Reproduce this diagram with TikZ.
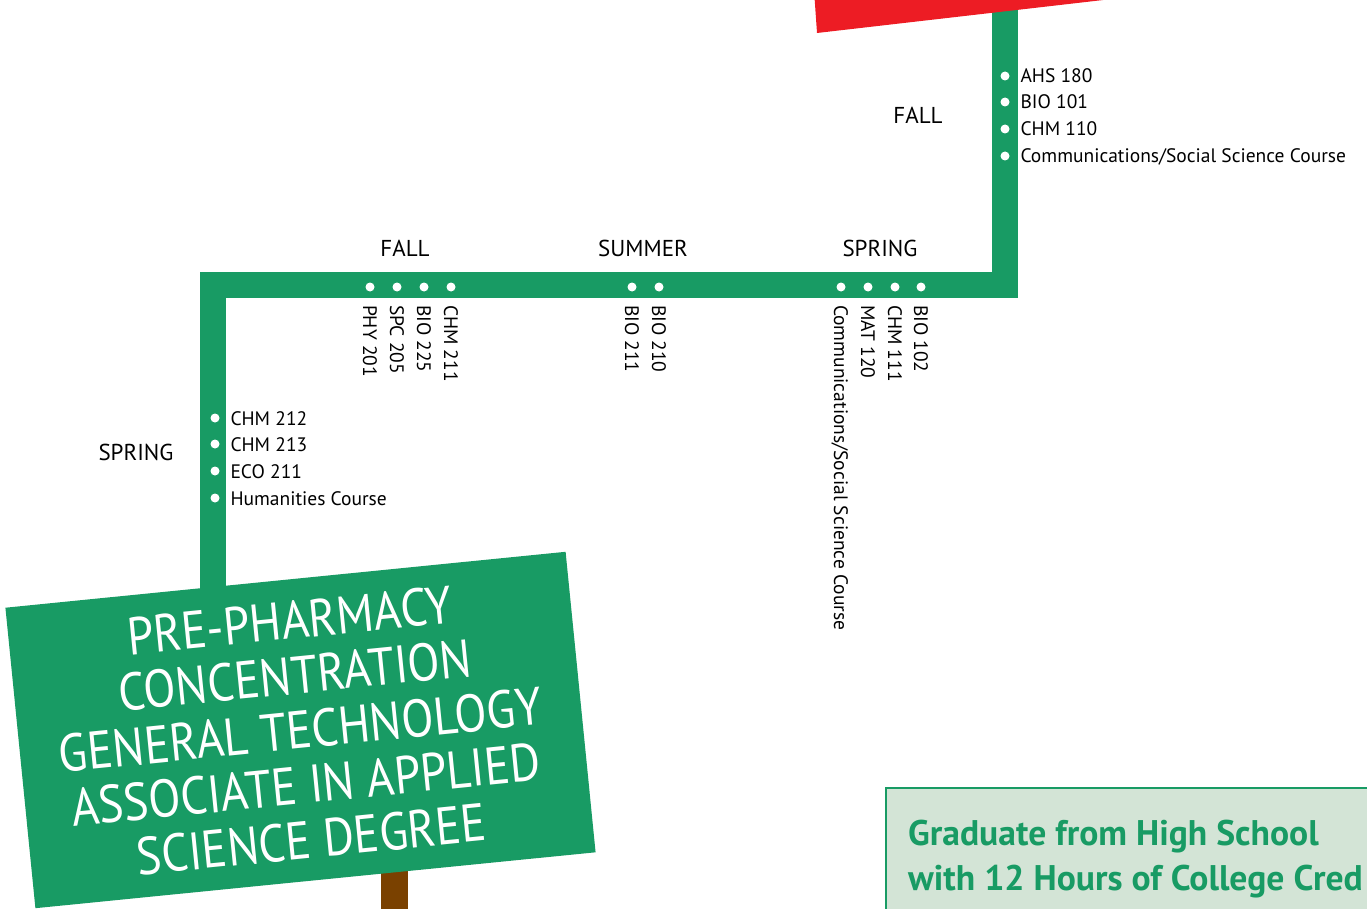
\documentclass[tikz,border=0pt]{standalone}
\usepackage{fontspec}
\setmainfont{PT Sans}
\newfontfamily\signfont[FakeStretch=0.89]{PT Sans}
\usetikzlibrary{positioning}

\definecolor{trackgreen}{RGB}{24,155,100}
\definecolor{flagred}{RGB}{237,28,36}
\definecolor{postbrown}{RGB}{122,65,0}
\definecolor{boxgreen}{RGB}{211,228,214}

\begin{document}
\begin{tikzpicture}[x=1pt,y=-1pt,
	track/.style={draw=trackgreen,line width=26pt},
	stop/.style={circle,fill=white,inner sep=0,outer sep=0,minimum size=9pt},
	course/.style={inner sep=0,outer sep=0,text height=14pt,text depth=0pt,font=\fontsize{19.5}{22}\selectfont},
	vcourse/.style={course,rotate=-90,anchor=west},
	season/.style={inner sep=0,font=\fontsize{23}{26}\selectfont},
	sign/.style={fill=trackgreen,text=white,align=center,inner sep=0,rotate=5.7,
		minimum width=563pt,minimum height=302pt,font=\signfont\fontsize{53}{55}\selectfont},
	gradbox/.style={draw=trackgreen,line width=2.5pt,fill=boxgreen},
	gradtext/.style={inner sep=0,anchor=base west,text=trackgreen,font=\bfseries\fontsize{35.6}{40}\selectfont}]
	\useasboundingbox (0,0) rectangle (1367,909);

	% track
	\coordinate (top) at (1005,-20);
	\coordinate (turn1) at (1005,285);
	\coordinate (turn2) at (213,285);
	\coordinate (bottom) at (213,620);
	\draw[track] (top) -- (turn1) -- (turn2) -- (bottom);

	% red sign above
	\fill[flagred] (814,-10) -- (817,33) -- (1190,-10) -- cycle;

	% first fall
	\foreach \y/\c [count=\i] in {76/AHS 180,102/BIO 101,129/CHM 110,156/{Communications/Social Science Course}} {
		\node[stop] (r\i) at (1005,\y) {};
		\node[course,right=11pt of r\i] (rl\i) {\c};
	}
	\node[season] (fall1) at (918,115) {FALL};

	% spring, summer, fall
	\foreach \x/\c [count=\i] in {841/{Communications/Social Science Course},868/MAT 120,895/CHM 111,921/BIO 102,
		632/BIO 211,659/BIO 210,370/PHY 201,397/SPC 205,424/BIO 225,451/CHM 211} {
		\node[stop] (h\i) at (\x,287) {};
		\node[vcourse] (hl\i) at (\x,305) {\c};
	}
	\node[season] (spring1) at (880,248) {SPRING};
	\node[season] (summer) at (643,248) {SUMMER};
	\node[season] (fall2) at (405,248) {FALL};

	% last spring
	\foreach \y/\c [count=\i] in {418/CHM 212,444/CHM 213,471/ECO 211,498/Humanities Course} {
		\node[stop] (l\i) at (215,\y) {};
		\node[course,right=11pt of l\i] (ll\i) {\c};
	}
	\node[season] (spring2) at (136,452) {SPRING};

	% degree sign
	\fill[postbrown] (381,840) rectangle (408,920);
	\node[sign] (degree) at (300.5,730) {PRE-PHARMACY\\CONCENTRATION\\GENERAL TECHNOLOGY\\ASSOCIATE IN APPLIED\\SCIENCE DEGREE};

	% start box
	\draw[gradbox] (886,788) rectangle (1380,925);
	\node[gradtext] (grad1) at (908,845) {Graduate from High School};
	\node[gradtext] (grad2) at (908,890) {with 12 Hours of College Cred};
\end{tikzpicture}
\end{document}
